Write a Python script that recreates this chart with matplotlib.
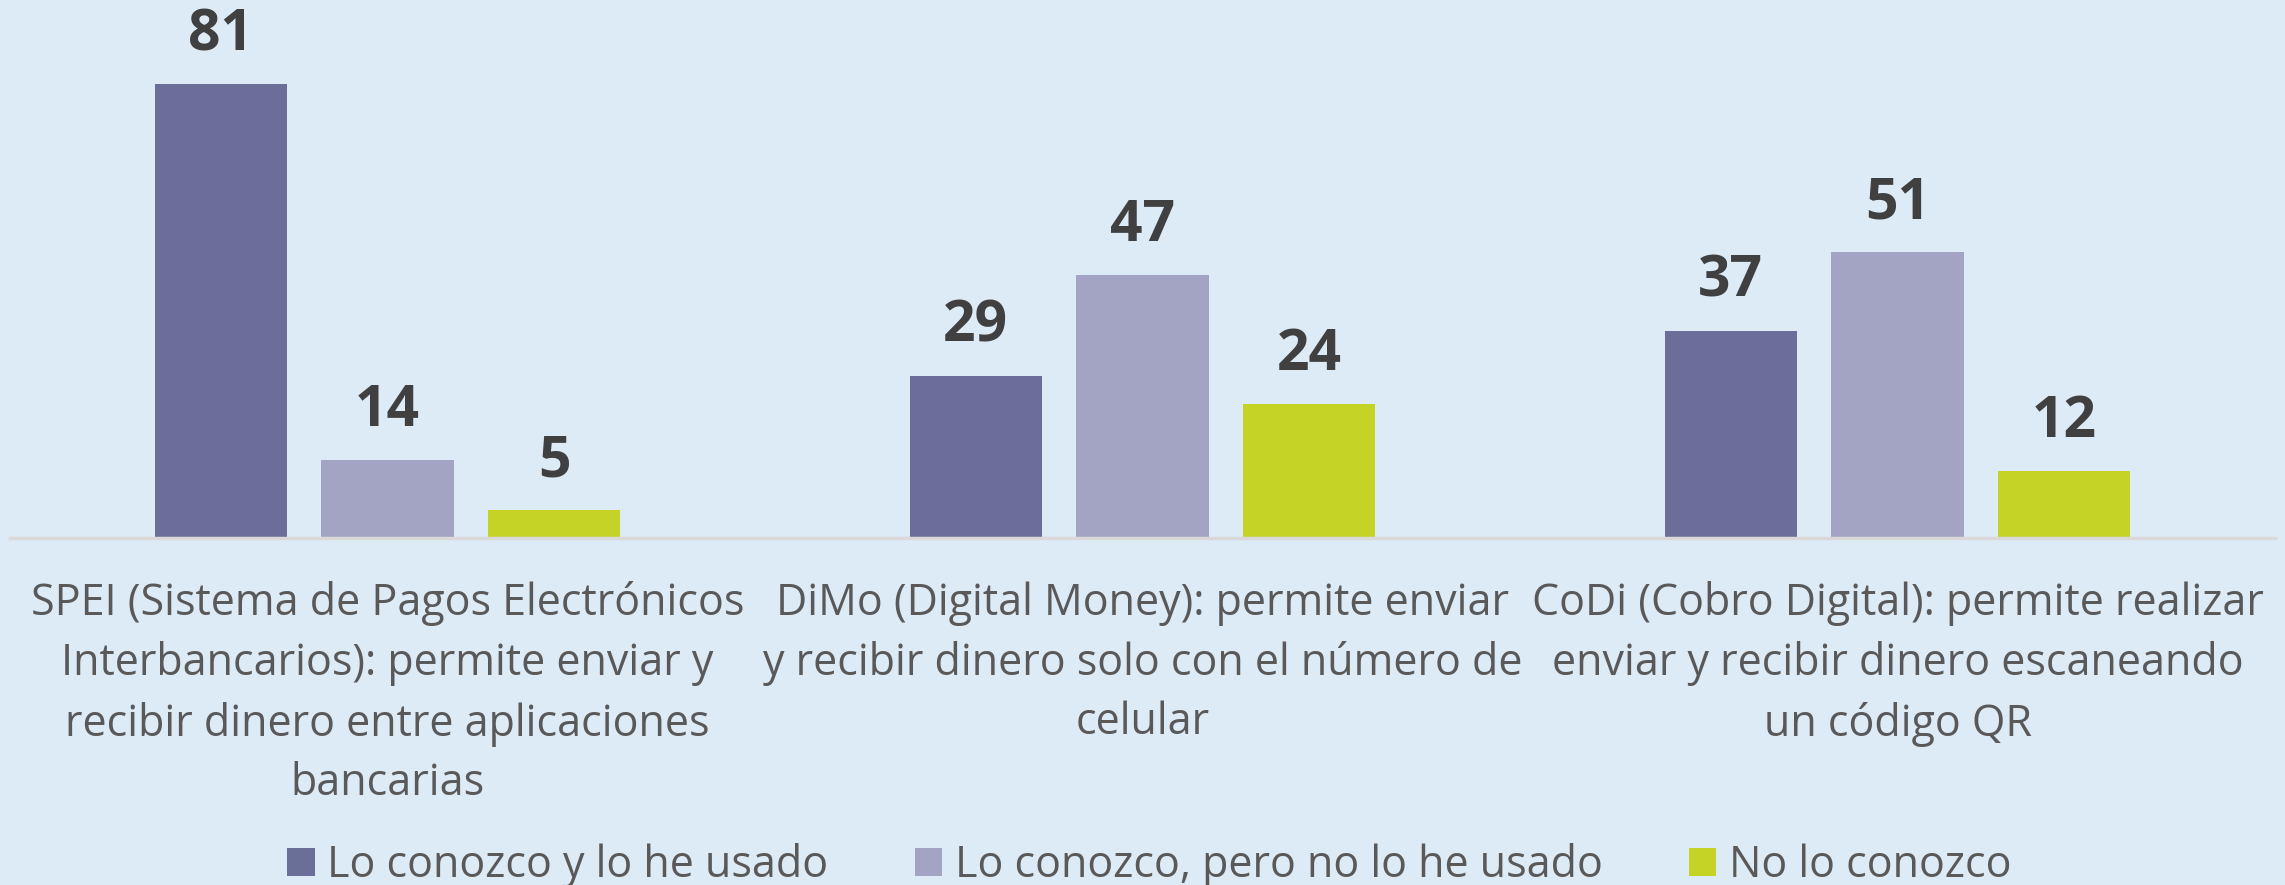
import matplotlib.pyplot as plt
from matplotlib.patches import Patch
import numpy as np

plt.rcParams["font.family"] = ["Open Sans", "DejaVu Sans"]

categories = [
    "SPEI (Sistema de Pagos Electrónicos\nInterbancarios): permite enviar y\nrecibir dinero entre aplicaciones\nbancarias",
    "DiMo (Digital Money): permite enviar\ny recibir dinero solo con el número de\ncelular",
    "CoDi (Cobro Digital): permite realizar\nenviar y recibir dinero escaneando\nun código QR",
]
series_names = [
    "Lo conozco y lo he usado",
    "Lo conozco, pero no lo he usado",
    "No lo conozco",
]
usado = [81, 29, 37]
no_usado = [14, 47, 51]
no_conozco = [5, 24, 12]

colors = ["#6C6E9A", "#A3A4C3", "#C5D326"]
bg = "#DDEBF7"

fig = plt.figure(figsize=(22.85, 8.85), dpi=100, facecolor=bg)
ax = fig.add_axes([10 / 2285, 1 - 538 / 885, 2265 / 2285, 504 / 885])
ax.set_facecolor(bg)

x = np.arange(len(categories))
width = 0.175
offset = 0.221
for i, (vals, col) in enumerate(zip([usado, no_usado, no_conozco], colors)):
    bars = ax.bar(x + (i - 1) * offset, vals, width, color=col, zorder=2)
    for b, v in zip(bars, vals):
        ax.annotate(str(v), (b.get_x() + b.get_width() / 2, v),
                    xytext=(0, 20), textcoords="offset pixels",
                    ha="center", va="bottom", fontsize=41,
                    fontweight="bold", color="#404040", clip_on=False)

ax.set_xlim(-0.5, 2.5)
ax.set_ylim(0, 90)
ax.set_yticks([])
for s in ["top", "right", "left"]:
    ax.spines[s].set_visible(False)
ax.spines["bottom"].set_color("#D9D9D9")
ax.spines["bottom"].set_linewidth(2.5)

ax.set_xticks(x)
ax.set_xticklabels(categories, fontsize=31, color="#595959",
                   linespacing=1.45, ha="center", multialignment="center")
ax.tick_params(axis="x", length=0, pad=31)

handles = [Patch(facecolor=c, edgecolor="none") for c in colors]
fig.legend(handles, series_names, loc="center", bbox_to_anchor=(0.503, 0.022),
           ncol=3, frameon=False, fontsize=31, labelcolor="#595959",
           handlelength=0.63, handleheight=0.63, handletextpad=0.3,
           columnspacing=2.0)

fig.savefig("out.png", dpi=100, facecolor=bg)
